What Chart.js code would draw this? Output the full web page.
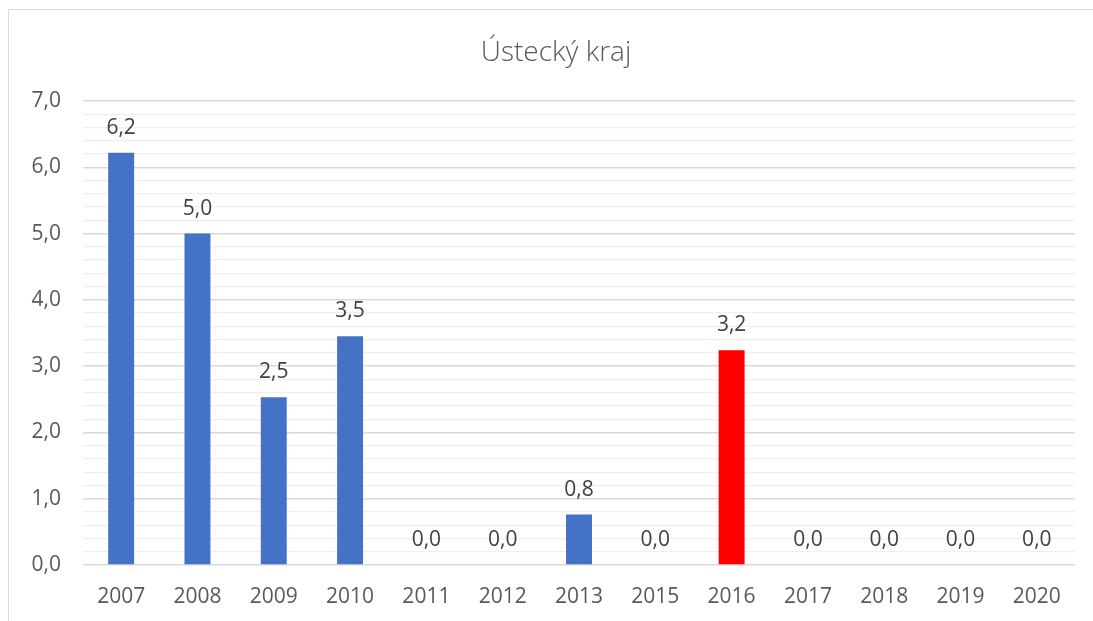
<!DOCTYPE html>
<html>
<head>
<meta charset="utf-8">
<script src="https://cdn.jsdelivr.net/npm/chart.js@4/dist/chart.umd.min.js"></script>
<style>
  html, body { margin: 0; padding: 0; background: #fff; }
  #wrap { width: 1093px; height: 621px; position: relative; }
</style>
</head>
<body>
<div id="wrap"><canvas id="chart"></canvas></div>
<script>
// --- Data ---
const years = ['2007', '2008', '2009', '2010', '2011', '2012', '2013', '2015', '2016', '2017', '2018', '2019', '2020'];
const values = [6.22, 5.0, 2.53, 3.45, 0, 0, 0.76, 0, 3.24, 0, 0, 0, 0];
const highlightYear = '2016';
const chartTitle = 'Ústecký kraj';

const FONT = '"Open Sans", "Liberation Sans", sans-serif';
const barColors = years.map(y => y === highlightYear ? '#FF0000' : '#4472C4');

// Helper: Czech decimal comma
const fmt = (v) => v.toFixed(1).replace('.', ',');
const isMajor = (v) => Math.abs(v - Math.round(v)) < 1e-6;

// Frame + title + value labels
const decorPlugin = {
    id: 'decor',
    beforeDraw(chart) {
        const ctx = chart.ctx;
        ctx.save();
        ctx.strokeStyle = '#d9d9d9';
        ctx.lineWidth = 1;
        ctx.beginPath();
        ctx.moveTo(8.5, 621);
        ctx.lineTo(8.5, 9.5);
        ctx.lineTo(1093, 9.5);
        ctx.stroke();

        ctx.fillStyle = '#595959';
        ctx.font = '300 28px ' + FONT;
        ctx.textAlign = 'center';
        ctx.textBaseline = 'alphabetic';
        ctx.fillText(chartTitle, 556, 61);
        ctx.restore();
    },
    afterDatasetsDraw(chart) {
        const ctx = chart.ctx;
        const meta = chart.getDatasetMeta(0);
        ctx.save();
        ctx.fillStyle = '#404040';
        ctx.font = '21px ' + FONT;
        ctx.textAlign = 'center';
        ctx.textBaseline = 'middle';
        meta.data.forEach((bar, i) => {
            ctx.fillText(fmt(values[i]), bar.x, bar.y - 25);
        });
        ctx.restore();
    }
};

new Chart(document.getElementById('chart'), {
    type: 'bar',
    data: {
        labels: years,
        datasets: [{
            data: values,
            backgroundColor: barColors,
            borderWidth: 0,
            barPercentage: 0.34,
            categoryPercentage: 1.0
        }]
    },
    options: {
        responsive: true,
        maintainAspectRatio: false,
        animation: false,
        layout: { padding: { top: 101, right: 18, left: 0, bottom: 0 } },
        plugins: {
            legend: { display: false },
            title: { display: false },
            tooltip: { enabled: false }
        },
        scales: {
            x: {
                grid: { display: false, drawTicks: false },
                border: { display: false },
                ticks: { color: '#595959', font: { family: FONT, size: 21 }, padding: 19 },
                afterFit: (s) => { s.height = 56; }
            },
            y: {
                min: 0,
                max: 7,
                border: { display: false },
                grid: {
                    drawTicks: false,
                    color: (c) => isMajor(c.tick.value) ? '#d9d9d9' : '#efefef',
                    lineWidth: (c) => isMajor(c.tick.value) ? 1.5 : 1.3
                },
                ticks: {
                    stepSize: 0.2,
                    autoSkip: false,
                    padding: 22,
                    color: '#595959',
                    font: { family: FONT, size: 21 },
                    callback: (v) => isMajor(v) ? fmt(v) : ''
                },
                afterFit: (s) => { s.width = 83; }
            }
        }
    },
    plugins: [decorPlugin]
});
</script>
</body>
</html>
